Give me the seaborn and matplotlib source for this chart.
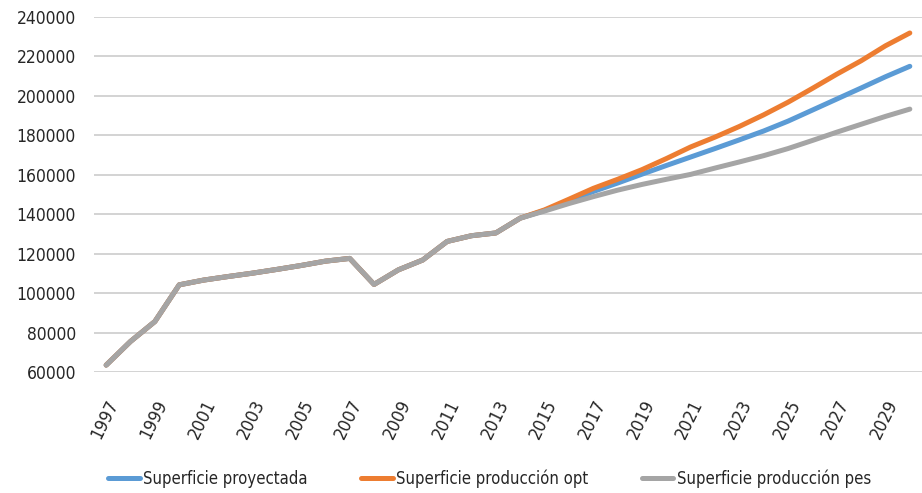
import seaborn as sns
import matplotlib.pyplot as plt
import numpy as np
import pandas as pd

sns.set_style('white')
plt.rcParams['font.family'] = ['DejaVu Sans']
plt.rcParams['font.stretch'] = 'condensed'

years = list(range(1997, 2031))
# historical values shared by the three series (1997-2014)
historico = [63500, 75500, 85600, 104200, 106600, 108400, 110100, 112000, 114000,
             116200, 117600, 104400, 111800, 116800, 126200, 129100, 130500, 138000]
# projections 2015-2030
proyectada = [141900, 146800, 151500, 155800, 160300, 164700, 169000, 173300, 177700,
              182200, 187200, 192800, 198400, 204000, 209700, 215000]
prod_opt = [142200, 147600, 153100, 157700, 162600, 168200, 174100, 179100, 184500,
            190400, 196800, 203800, 211000, 217800, 225400, 231900]
prod_pes = [141600, 145400, 148900, 152200, 155100, 157700, 160200, 163400, 166500,
            169700, 173300, 177400, 181600, 185600, 189600, 193300]

series = {
    'Superficie proyectada': historico + proyectada,
    'Superficie producción opt': historico + prod_opt,
    'Superficie producción pes': historico + prod_pes,
}
colores = {'Superficie proyectada': '#5B9BD5',
           'Superficie producción opt': '#ED7D31',
           'Superficie producción pes': '#A5A5A5'}

df = pd.DataFrame([(y, k, v) for k, vals in series.items() for y, v in zip(years, vals)],
                  columns=['anio', 'serie', 'valor'])

fig = plt.figure(figsize=(9.22, 4.93), dpi=100)
ax = fig.add_axes([94 / 922, 1 - 372 / 493, 828 / 922, 355 / 493])

for ax_y in range(60000, 240001, 20000):
    ax.axhline(ax_y, color='#D0D0D0', lw=1.3, zorder=0)

sns.lineplot(data=df, x='anio', y='valor', hue='serie', palette=colores,
             linewidth=3.6, ax=ax, legend=True)

ax.set_xlim(1996.5, 2030.5)
ax.set_ylim(60000, 240000)
ax.set_yticks(range(60000, 240001, 20000))
ax.set_yticklabels([str(v) for v in range(60000, 240001, 20000)], fontsize=12.5)
ax.set_xticks(range(1997, 2030, 2))
ax.set_xticklabels([str(y) for y in range(1997, 2030, 2)], rotation=64,
                   ha='right', rotation_mode='anchor', fontsize=13)
ax.tick_params(axis='y', pad=13, length=0)
ax.tick_params(axis='x', pad=18, length=0)
ax.set_xlabel('')
ax.set_ylabel('')
for s in ax.spines.values():
    s.set_visible(False)

h, l = ax.get_legend_handles_labels()
ax.get_legend().remove()
fig.legend(h, l, loc='center', bbox_to_anchor=(0.531, 14 / 493), ncol=3,
           frameon=False, fontsize=12, handlelength=1.9, handletextpad=0.2,
           columnspacing=3.2, borderpad=0)

fig.savefig('out.png', dpi=100)
